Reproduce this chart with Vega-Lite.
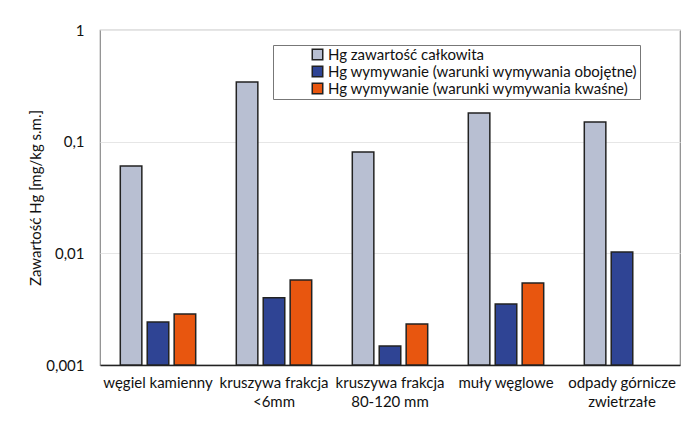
{
  "$schema": "https://vega.github.io/schema/vega-lite/v6.json",
  "width": 580,
  "height": 335,
  "autosize": "none",
  "padding": {"left": 100, "top": 30, "right": 6, "bottom": 65},
  "background": "white",
  "config": {
    "font": "Lato",
    "view": {"stroke": "#8a8a8a", "strokeWidth": 1.2}
  },
  "data": {
    "values": [
      {"kat": "węgiel kamienny", "seria": "Hg zawartość całkowita", "v": 0.0606},
      {"kat": "węgiel kamienny", "seria": "Hg wymywanie (warunki wymywania obojętne)", "v": 0.00243},
      {"kat": "węgiel kamienny", "seria": "Hg wymywanie (warunki wymywania kwaśne)", "v": 0.00286},
      {"kat": "kruszywa frakcja|<6mm", "seria": "Hg zawartość całkowita", "v": 0.342},
      {"kat": "kruszywa frakcja|<6mm", "seria": "Hg wymywanie (warunki wymywania obojętne)", "v": 0.0040},
      {"kat": "kruszywa frakcja|<6mm", "seria": "Hg wymywanie (warunki wymywania kwaśne)", "v": 0.00578},
      {"kat": "kruszywa frakcja|80-120 mm", "seria": "Hg zawartość całkowita", "v": 0.081},
      {"kat": "kruszywa frakcja|80-120 mm", "seria": "Hg wymywanie (warunki wymywania obojętne)", "v": 0.00148},
      {"kat": "kruszywa frakcja|80-120 mm", "seria": "Hg wymywanie (warunki wymywania kwaśne)", "v": 0.00233},
      {"kat": "muły węglowe", "seria": "Hg zawartość całkowita", "v": 0.181},
      {"kat": "muły węglowe", "seria": "Hg wymywanie (warunki wymywania obojętne)", "v": 0.00352},
      {"kat": "muły węglowe", "seria": "Hg wymywanie (warunki wymywania kwaśne)", "v": 0.00543},
      {"kat": "odpady górnicze|zwietrzałe", "seria": "Hg zawartość całkowita", "v": 0.150},
      {"kat": "odpady górnicze|zwietrzałe", "seria": "Hg wymywanie (warunki wymywania obojętne)", "v": 0.0103}
    ]
  },
  "mark": {"type": "bar", "stroke": "#222222", "strokeWidth": 1.5},
  "encoding": {
    "x": {
      "field": "kat",
      "type": "nominal",
      "sort": null,
      "scale": {"paddingInner": 0.35, "paddingOuter": 0.175},
      "axis": {
        "title": null,
        "labelAngle": 0,
        "labelExpr": "split(datum.label, '|')",
        "labelFontSize": 15,
        "labelColor": "#111111",
        "labelPadding": 10,
        "labelLineHeight": 19,
        "ticks": false,
        "domainColor": "#222222",
        "domainWidth": 1.5
      }
    },
    "xOffset": {
      "field": "seria",
      "type": "nominal",
      "sort": ["Hg zawartość całkowita", "Hg wymywanie (warunki wymywania obojętne)", "Hg wymywanie (warunki wymywania kwaśne)"],
      "scale": {"paddingInner": 0.2, "paddingOuter": 0}
    },
    "y": {
      "field": "v",
      "type": "quantitative",
      "scale": {"type": "log", "domain": [0.001, 1], "nice": false},
      "axis": {
        "title": "Zawartość Hg [mg/kg  s.m.]",
        "titleFontSize": 15,
        "titleFontWeight": "normal",
        "titleColor": "#111111",
        "titlePadding": 2,
        "values": [0.001, 0.01, 0.1, 1],
        "labelExpr": "replace(format(datum.value, ''), '.', ',')",
        "labelFontSize": 15,
        "labelColor": "#111111",
        "labelPadding": 16,
        "ticks": false,
        "domain": false,
        "grid": true,
        "gridColor": "#e6e6e6",
        "gridWidth": 1.2
      }
    },
    "y2": {"datum": 0.001},
    "color": {
      "field": "seria",
      "type": "nominal",
      "sort": ["Hg zawartość całkowita", "Hg wymywanie (warunki wymywania obojętne)", "Hg wymywanie (warunki wymywania kwaśne)"],
      "scale": {
        "domain": ["Hg zawartość całkowita", "Hg wymywanie (warunki wymywania obojętne)", "Hg wymywanie (warunki wymywania kwaśne)"],
        "range": ["#b8bfd2", "#2f4494", "#e8560f"]
      },
      "legend": {
        "title": null,
        "orient": "none",
        "legendX": 173,
        "legendY": 15,
        "symbolType": "square",
        "symbolSize": 110,
        "symbolStrokeColor": "#222222",
        "symbolStrokeWidth": 1.5,
        "labelFontSize": 15,
        "labelColor": "#111111",
        "labelLimit": 450,
        "labelExpr": "datum.label + '\u00a0\u00a0\u00a0\u00a0\u00a0\u00a0\u00a0'",
        "rowPadding": 0,
        "strokeColor": "#777777",
        "padding": 2,
        "fillColor": "white",
        "labelOffset": 3,
        "symbolOffset": 35
      }
    }
  }
}
